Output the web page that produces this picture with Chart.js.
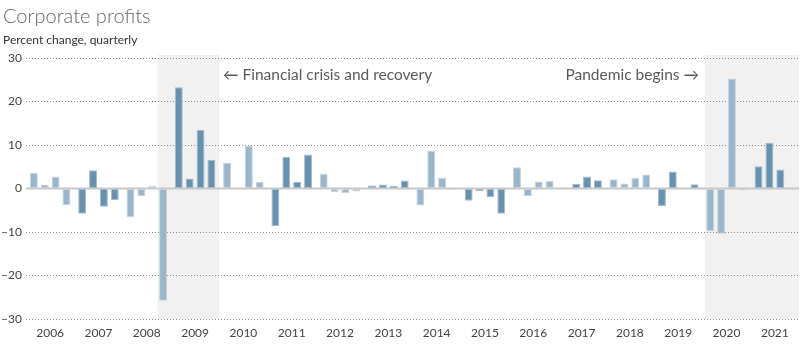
<!DOCTYPE html>
<html><head><meta charset="utf-8">
<script src="https://cdn.jsdelivr.net/npm/chart.js@4.4.0/dist/chart.umd.min.js"></script>
<style>
html,body{margin:0;padding:0;background:#fff;overflow:hidden;}
#wrap{position:relative;width:800px;height:344px;font-family:Lato,"Open Sans",sans-serif;}
#c{position:absolute;left:0;top:0;}
.t{position:absolute;white-space:nowrap;color:#5a5a5a;line-height:1.2;}
</style></head><body>
<div id="wrap">
<canvas id="c" width="800" height="344"></canvas>
<div class="t" style="left:3px;top:3px;font-size:20px;font-weight:300;color:#666;">Corporate profits</div>
<div class="t" style="left:3px;top:33px;font-size:12px;color:#333;">Percent change, quarterly</div>
<div class="t" style="left:223px;top:65px;font-size:15.5px;">← Financial crisis and recovery</div>
<div class="t" style="right:101px;top:65px;font-size:15.5px;">Pandemic begins →</div>
</div>
<script>
// Categories
const years = ['2006','2007','2008','2009','2010','2011','2012','2013','2014','2015','2016','2017','2018','2019','2020','2021'];
const quarters = ['Q1','Q2','Q3','Q4'];
// Percent change by quarter, one value per year
const q1 = [3.6, -5.8, -6.6, 23.3, 5.9, -8.6, 3.4, 0.7, -3.9, -2.8, 4.9, 0.2, 2.1, -4.0, -9.85, 5.1];
const q2 = [0.85, 4.2, -1.75, 2.3, -0.1, 7.3, -0.85, 0.9, 8.7, -0.6, -1.75, 1.1, 1.15, 3.9, -10.4, 10.5];
const q3 = [2.75, -4.2, 0.6, 13.5, 9.9, 1.5, -1.1, 0.6, 2.5, -2.0, 1.6, 2.75, 2.5, -0.2, 25.3, 4.35];
const q4 = [-3.8, -2.7, -25.8, 6.6, 1.5, 7.8, -0.7, 1.85, -0.3, -5.8, 1.75, 1.9, 3.2, 1.0, -0.4, null];
const yTicks = [-30, -20, -10, 0, 10, 20, 30];

const LIGHT = '#9bb6ca', DARK = '#6891ae';
const LIGHT_EDGE = '#c3d4e0', DARK_EDGE = '#a3bccd';
const colorFor = (ctx) => (ctx.dataIndex % 2 === 0 ? LIGHT : DARK);
const edgeFor = (ctx) => (ctx.dataIndex % 2 === 0 ? LIGHT_EDGE : DARK_EDGE);

const series = [q1, q2, q3, q4];
const datasets = series.map((d, i) => ({
  label: quarters[i],
  data: d,
  backgroundColor: colorFor,
  borderColor: edgeFor,
  borderWidth: 1,
  borderSkipped: false,
  categoryPercentage: 0.9,
  barPercentage: 0.73
}));

// shaded periods: [category index, fraction offset from category centre]
const shades = [
  {from: [2, 0.225], to: [3, 0.5]},
  {from: [14, -0.45], to: null}
];

const bgPlugin = {
  id: 'bg',
  beforeDraw(chart) {
    const {ctx, chartArea, scales} = chart;
    const x = scales.x;
    const w = x.getPixelForValue(1) - x.getPixelForValue(0);
    ctx.save();
    ctx.fillStyle = '#f1f1f1';
    shades.forEach(s => {
      const x0 = x.getPixelForValue(s.from[0]) + s.from[1] * w;
      const x1 = s.to ? x.getPixelForValue(s.to[0]) + s.to[1] * w : chartArea.right;
      ctx.fillRect(x0, chartArea.top - 3, x1 - x0, chartArea.bottom - chartArea.top + 3);
    });
    ctx.restore();
  },
  beforeDatasetsDraw(chart) {
    const {ctx, chartArea, scales} = chart;
    const y0 = scales.y.getPixelForValue(0);
    ctx.save();
    ctx.strokeStyle = '#c8c8c8';
    ctx.lineWidth = 2;
    ctx.beginPath();
    ctx.moveTo(chartArea.left, y0);
    ctx.lineTo(chartArea.right, y0);
    ctx.stroke();
    ctx.restore();
  }
};

new Chart(document.getElementById('c'), {
  type: 'bar',
  data: {labels: years, datasets},
  options: {
    responsive: false,
    animation: false,
    layout: {padding: {top: 58, right: 1, bottom: 3, left: 0}},
    plugins: {legend: {display: false}, tooltip: {enabled: false}, title: {display: false}},
    scales: {
      x: {
        afterFit(scale) { scale.height = 22; },
        grid: {display: false, drawTicks: false},
        border: {display: false},
        ticks: {color: '#444', font: {family: 'Lato', size: 12}, padding: 7, maxRotation: 0, autoSkip: false}
      },
      y: {
        min: -30, max: 30,
        afterBuildTicks(scale) { scale.ticks = yTicks.map(v => ({value: v})); },
        afterFit(scale) { scale.width = 26; },
        grid: {
          color: (c) => (c.tick && c.tick.value === 0 ? 'rgba(0,0,0,0)' : '#8c8c8c'),
          lineWidth: 1,
          drawTicks: false
        },
        border: {display: false, dash: [1, 2]},
        ticks: {
          color: '#444', font: {family: 'Lato', size: 12}, padding: 4,
          callback: (v) => (v < 0 ? '\u2013' + Math.abs(v) : String(v))
        }
      }
    }
  },
  plugins: [bgPlugin]
});
</script>
</body></html>
